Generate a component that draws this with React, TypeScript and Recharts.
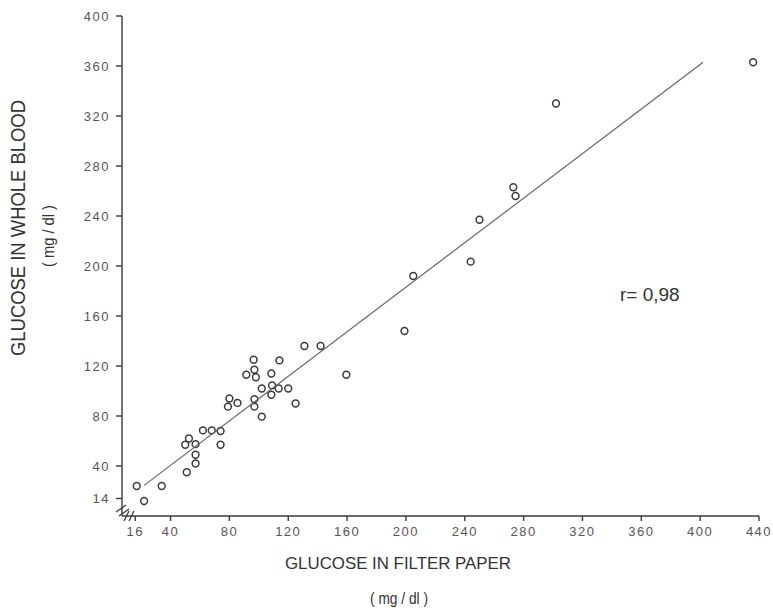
import { ScatterChart, Scatter, XAxis, YAxis, Customized } from 'recharts';

// glucose in filter paper (x) vs glucose in whole blood (y), mg/dl
const filterPaper = [
  17, 22, 34, 51, 50, 52.5, 57, 57, 57, 62, 68, 74, 74, 79, 80, 85.5, 91.5, 96.5, 97, 98, 97,
  97, 102, 102, 108.5, 109, 108.5, 114, 113.5, 120, 125, 131, 142, 159.5, 199, 205, 244, 250,
  273, 274.5, 302, 436,
];
const wholeBlood = [
  24, 12, 24, 35, 57, 62, 57.5, 49, 42, 68.5, 68.5, 68, 57, 87.5, 94, 90.5, 113, 125, 117, 111,
  93.5, 87.5, 79.5, 102, 114, 104.5, 97, 124.5, 102, 102, 90, 136, 136, 113, 148, 192, 203.5,
  237, 263, 256, 330, 363,
];

// regression line end points
const fitX = [22, 402];
const fitY = [24.5, 363];

const xTicks = [16, 40, 80, 120, 160, 200, 240, 280, 320, 360, 400, 440];
const yTicks = [14, 40, 80, 120, 160, 200, 240, 280, 320, 360, 400];

const points = filterPaper.map((x, i) => ({ x, y: wholeBlood[i] }));
const fitLine = fitX.map((x, i) => ({ x, y: fitY[i] }));

const ink = '#3a3a3a';
const font = '"Liberation Sans", Arial, sans-serif';

function Ring(props: any) {
  const { cx, cy } = props;
  if (cx == null || cy == null) return null;
  return <circle cx={cx} cy={cy} r={3.4} fill="none" stroke={ink} strokeWidth={1.5} />;
}

function Labels() {
  return (
    <g fontFamily={font} fill="#333">
      <text
        x={18}
        y={228}
        transform="rotate(-90 18 228)"
        textAnchor="middle"
        dominantBaseline="central"
        fontSize={20}
        textLength={256}
        lengthAdjust="spacingAndGlyphs"
      >
        GLUCOSE IN WHOLE BLOOD
      </text>
      <text
        x={48}
        y={236}
        transform="rotate(-90 48 236)"
        textAnchor="middle"
        dominantBaseline="central"
        fontSize={17}
        textLength={62}
        lengthAdjust="spacingAndGlyphs"
      >
        ( mg / dl )
      </text>
      <text
        x={398}
        y={563}
        textAnchor="middle"
        dominantBaseline="central"
        fontSize={17}
        textLength={226}
        lengthAdjust="spacingAndGlyphs"
      >
        GLUCOSE IN FILTER PAPER
      </text>
      <text
        x={399}
        y={598}
        textAnchor="middle"
        dominantBaseline="central"
        fontSize={17}
        textLength={58}
        lengthAdjust="spacingAndGlyphs"
      >
        ( mg / dl )
      </text>
      <text x={620} y={294} dominantBaseline="central" fontSize={19}>
        r= 0,98
      </text>
      {/* axis break marks */}
      <path d="M116 512 L126 505 M119 516 L129 509" stroke={ink} strokeWidth={1.3} fill="none" />
      <path d="M124 521 L129 511 M129 521 L134 511" stroke={ink} strokeWidth={1.3} fill="none" />
    </g>
  );
}

export default function App() {
  const tick = { fill: '#555', fontSize: 13, fontFamily: font, letterSpacing: 1.5 };
  return (
    <div style={{ position: 'absolute', left: 0, top: 0, width: 773, height: 613, background: '#fff' }}>
      <ScatterChart width={773} height={613} margin={{ top: 16, right: 14, bottom: 67, left: 0 }}>
        <XAxis
          type="number"
          dataKey="x"
          domain={[7, 440]}
          ticks={xTicks}
          allowDataOverflow
          height={30}
          stroke={ink}
          strokeWidth={1.4}
          tickSize={5}
          tick={tick}
          tickMargin={6}
        />
        <YAxis
          type="number"
          dataKey="y"
          domain={[0, 400]}
          ticks={yTicks}
          allowDataOverflow
          width={122}
          stroke={ink}
          strokeWidth={1.4}
          tickSize={6}
          tick={tick}
          tickMargin={6}
        />
        <Scatter data={points} shape={<Ring />} isAnimationActive={false} />
        <Scatter
          data={fitLine}
          line={{ stroke: '#666', strokeWidth: 1.2 }}
          shape={() => null}
          isAnimationActive={false}
        />
        <Customized component={<Labels />} />
      </ScatterChart>
    </div>
  );
}
